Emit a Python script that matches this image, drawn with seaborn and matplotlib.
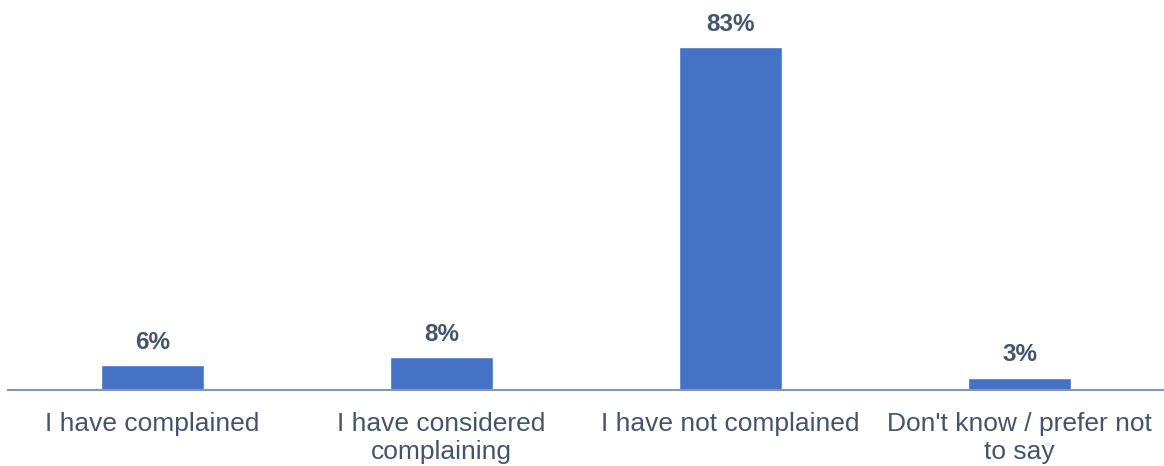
import matplotlib.pyplot as plt
import seaborn as sns
import pandas as pd

categories = ["I have complained", "I have considered\ncomplaining",
              "I have not complained", "Don't know / prefer not\nto say"]
values = [6, 8, 83, 3]
labels = ["6%", "8%", "83%", "3%"]

df = pd.DataFrame({'cat': categories, 'val': values})

sns.set_style('white')
plt.rcParams['font.family'] = ['Liberation Sans', 'DejaVu Sans']

fig = plt.figure(figsize=(11.64, 4.66), dpi=100)
ax = fig.add_axes([8 / 1164, 76 / 466, 1156 / 1164, 390 / 466])

sns.barplot(data=df, x='cat', y='val', color='#4472C4', saturation=1,
            width=0.353, ax=ax)

for i, (v, lab) in enumerate(zip(values, labels)):
    ax.annotate(lab, (i, v), xytext=(0, 8), textcoords='offset points',
                ha='center', va='bottom', fontsize=17.5, fontweight='bold',
                color='#44546A')

ax.set_ylim(0, 94.4)
ax.set_xlim(-0.5, 3.5)
ax.set_xlabel('')
ax.set_ylabel('')
ax.set_yticks([])
ax.tick_params(axis='x', length=0, pad=16, labelsize=19, labelcolor='#44546A')
for t in ax.get_xticklabels():
    t.set_linespacing(1.2)
for s in ['top', 'right', 'left']:
    ax.spines[s].set_visible(False)
ax.spines['bottom'].set_color('#8497B0')
ax.spines['bottom'].set_linewidth(1.5)

fig.savefig('out.png', dpi=100)
